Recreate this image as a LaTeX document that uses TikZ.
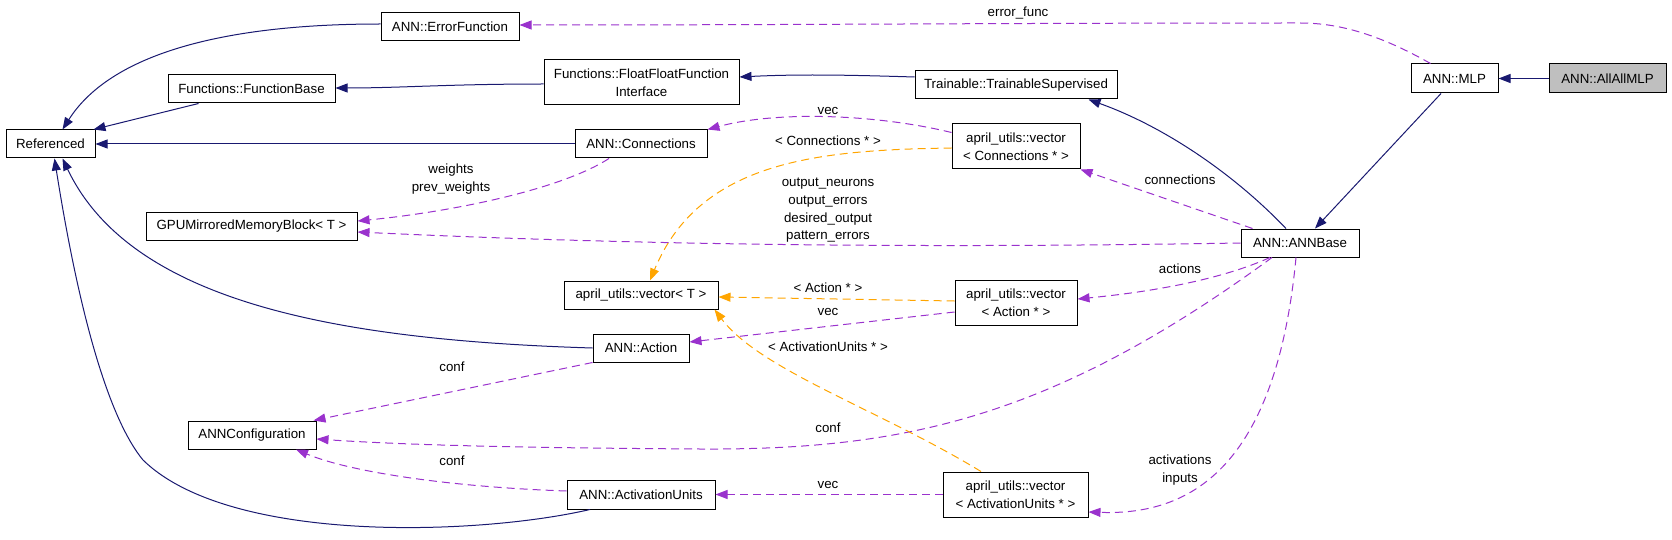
\documentclass[tikz,border=0pt]{standalone}
\usepackage{fontspec}
\setmainfont{Liberation Sans}
\usetikzlibrary{arrows.meta}
\definecolor{navy}{HTML}{191970}
\definecolor{orch}{HTML}{9A32CD}
\definecolor{orng}{HTML}{FFA500}
\definecolor{rootgray}{HTML}{BFBFBF}
\tikzset{
  box/.style={draw=black, line width=1pt, fill=white, inner sep=0pt, minimum height=28pt,
              align=center, font=\fontsize{13.3}{18}\selectfont},
  tip/.style={-{Triangle[length=12pt,width=9pt]}},
  inh/.style={draw=navy, line width=1pt, tip},
  usee/.style={draw=orch, line width=1pt, dash pattern=on 8pt off 5pt, tip},
  tmpl/.style={draw=orng, line width=1pt, dash pattern=on 8pt off 5pt, tip},
  lbl/.style={align=center, inner sep=0pt, font=\fontsize{13.3}{17.7}\selectfont}
}
\begin{document}
\begin{tikzpicture}[x=1pt,y=-1pt]
\useasboundingbox (0,0) rectangle (1672,540);
% nodes
\node[box, minimum width=89pt]  (ref)   at (50.5,144)  {Referenced};
\node[box, minimum width=167pt] (fb)    at (251.5,89)  {Functions::FunctionBase};
\node[box, minimum width=138pt] (ef)    at (450,27)    {ANN::ErrorFunction};
\node[box, minimum width=211pt] (gpu)   at (251.5,226) {GPUMirroredMemoryBlock< T >};
\node[box, minimum width=195pt, minimum height=45pt] (ffi) at (641.5,82.5) {Functions::FloatFloatFunction\\Interface};
\node[box, minimum width=202pt] (ts)    at (1016,85)   {Trainable::TrainableSupervised};
\node[box, minimum width=132pt] (conn)  at (641,144)   {ANN::Connections};
\node[box, minimum width=128pt, minimum height=45pt] (vconn) at (1016,146.5) {april\_utils::vector\\< Connections * >};
\node[box, minimum width=87pt, minimum height=29pt]  (mlp)   at (1454.5,78.5) {ANN::MLP};
\node[box, minimum width=117pt, minimum height=29pt, fill=rootgray] (allall) at (1607.5,78.5) {ANN::AllAllMLP};
\node[box, minimum width=118pt] (annbase) at (1300,243) {ANN::ANNBase};
\node[box, minimum width=128pt] (anncfg)  at (252,435)  {ANNConfiguration};
\node[box, minimum width=154pt] (vT)      at (641,295)  {april\_utils::vector< T >};
\node[box, minimum width=122pt, minimum height=45pt] (vact) at (1016,302.5) {april\_utils::vector\\< Action * >};
\node[box, minimum width=96pt]  (action)  at (641,348)  {ANN::Action};
\node[box, minimum width=148pt, minimum height=29pt] (au) at (641,494.5) {ANN::ActivationUnits};
\node[box, minimum width=145pt, minimum height=45pt] (vau) at (1015.5,494.5) {april\_utils::vector\\< ActivationUnits * >};

% inheritance (solid navy)
\draw[inh] ([yshift=3pt]ef.west) .. controls (220,24) and (110,55) .. ([xshift=12pt]ref.north);
\draw[inh] ([xshift=-53pt]fb.south) -- ([xshift=-2pt]ref.north east);
\draw[inh] ([yshift=-1.5pt]ffi.west) .. controls (450,84) and (400,88) .. ([yshift=1pt]fb.east);
\draw[inh] ([yshift=8pt]ts.west) .. controls (850,75) and (800,74) .. ([yshift=5.5pt]ffi.east);
\draw[inh] (conn.west) -- (ref.east);
\draw[inh] ([xshift=-14pt]annbase.north) .. controls (1230,170) and (1160,125) .. ([xshift=-29pt]ts.south east);
\draw[inh] ([xshift=-13.5pt]mlp.south) -- ([xshift=15pt]annbase.north);
\draw[inh] (allall.west) -- (mlp.east);
\draw[inh] (action.west) .. controls (330,340) and (130,300) .. ([xshift=12pt]ref.south);
\draw[inh] ([xshift=-51pt]au.south) .. controls (480,535) and (230,545) .. (143,460)
           .. controls (110,420) and (80,320) .. ([xshift=4pt]ref.south);

% usage (dashed purple)
\draw[usee] ([xshift=-24pt]mlp.north) .. controls (1380,35) and (1340,23) .. (1300,23)
            .. controls (1000,23) and (800,25) .. ([yshift=2pt]ef.east);
\node[lbl] (lerr) at (1018,13) {error\_func};
\draw[usee] ([yshift=14pt]vconn.west) .. controls (880,115) and (780,110) .. (conn.north east);
\node[lbl] (lvec1) at (828,111) {vec};
\draw[usee] ([xshift=-32pt]conn.south) .. controls (560,190) and (450,212) .. ([yshift=5pt]gpu.east);
\node[lbl] (lw) at (451,179) {weights\\prev\_weights};
\draw[usee] (annbase.west) .. controls (1000,247) and (700,248) .. ([yshift=-6pt]gpu.east);
\node[lbl] (lout) at (828,210.5) {output\_neurons\\output\_errors\\desired\_output\\pattern\_errors};
\draw[usee] ([xshift=12pt]annbase.north west) -- (vconn.south east);
\node[lbl] (lconn) at (1180,180) {connections};
\draw[usee] ([xshift=-30pt]annbase.south) .. controls (1220,280) and (1150,292) .. ([yshift=3.5pt]vact.east);
\node[lbl] (lact) at (1180,269) {actions};
\draw[usee] ([xshift=-4pt]annbase.south) .. controls (1275,480) and (1180,515) .. ([yshift=-17.5pt]vau.east);
\node[lbl] (lai) at (1180,470) {activations\\inputs};
\draw[usee] ([xshift=-28pt]annbase.south) .. controls (1050,420) and (900,450) .. (700,449)
            .. controls (550,448) and (420,446) .. ([yshift=-4pt]anncfg.east);
\node[lbl] (lconf1) at (828,428) {conf};
\draw[usee] (action.south west) -- ([xshift=-3pt]anncfg.north east);
\node[lbl] (lconf2) at (452,367) {conf};
\draw[usee] ([yshift=3.5pt]au.west) .. controls (450,487) and (350,472) .. ([xshift=44pt]anncfg.south);
\node[lbl] (lconf3) at (452,461) {conf};
\draw[usee] ([yshift=-9.5pt]vact.west) -- ([yshift=6pt]action.east);
\node[lbl] (lvec2) at (828,312) {vec};
\draw[usee] (vau.west) -- (au.east);
\node[lbl] (lvec3) at (828,485) {vec};

% template instances (dashed orange)
\draw[tmpl] ([yshift=-1.5pt]vconn.west) .. controls (820,150) and (700,160) .. ([xshift=9pt]vT.north);
\node[lbl] (lc) at (828,141) {< Connections * >};
\draw[tmpl] ([yshift=1.5pt]vact.west) -- ([yshift=-2pt]vT.east);
\node[lbl] (la) at (828,288) {< Action * >};
\draw[tmpl] ([xshift=-34.5pt]vau.north) .. controls (880,410) and (760,370) .. ([xshift=-4pt]vT.south east);
\node[lbl] (lau) at (828,347) {< ActivationUnits * >};
\end{tikzpicture}
\end{document}
